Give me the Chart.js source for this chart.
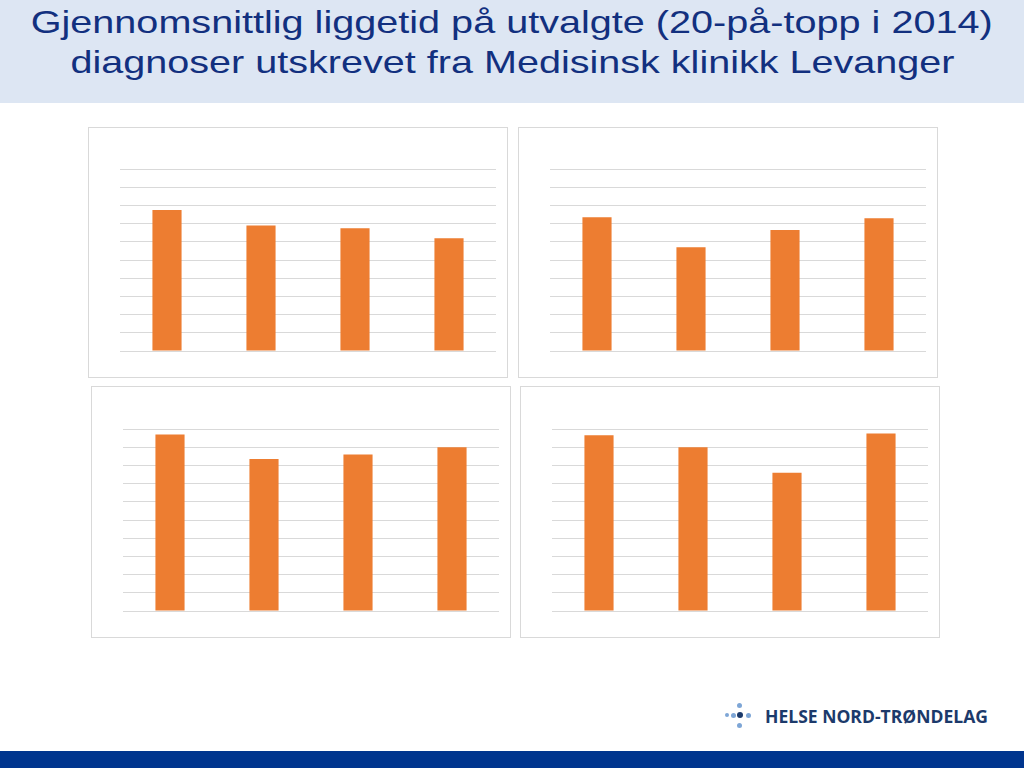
<!doctype html>
<html>

<head>
    <meta charset="utf-8">
    <title>Liggetid Medisinsk klinikk Levanger</title>
    <script src="https://cdn.jsdelivr.net/npm/chart.js"></script>
    <style>
        body {
            margin: 0;
            padding: 0;
            width: 1024px;
            height: 768px;
            position: relative;
            overflow: hidden;
            background-color: #ffffff;
            font-family: "Liberation Sans", Arial, sans-serif;
        }

        #header {
            position: absolute;
            left: 0;
            top: 0;
            width: 1024px;
            height: 103px;
            background-color: #dde6f3;
        }

        #header div {
            position: absolute;
            left: 0;
            width: 1024px;
            text-align: center;
            color: #12307f;
            font-size: 32px;
            white-space: nowrap;
        }

        .panel {
            position: absolute;
            box-sizing: border-box;
            border: 1px solid #d9d9d9;
            background: #ffffff;
        }

        .panel canvas {
            display: block;
        }

        #footer {
            position: absolute;
            left: 0;
            top: 751px;
            width: 1024px;
            height: 17px;
            background-color: #00358e;
        }

        .dot {
            position: absolute;
            border-radius: 50%;
            background-color: #7ea6d6;
        }

        #logoText {
            position: absolute;
            left: 765px;
            top: 703px;
            font-family: "Open Sans", sans-serif;
            font-weight: bold;
            font-size: 18.5px;
            color: #1c3a6b;
            white-space: nowrap;
        }
    </style>
</head>

<body>
    <div id="header">
        <div id="line1" style="top: 4px;">Gjennomsnittlig liggetid på utvalgte (20-på-topp i 2014)</div>
        <div id="line2" style="top: 44px;">diagnoser utskrevet fra Medisinsk klinikk Levanger</div>
    </div>

    <div class="panel" style="left: 88px; top: 127px; width: 420px; height: 251px;"><canvas id="panel1" width="418" height="249"></canvas></div>
    <div class="panel" style="left: 518px; top: 127px; width: 420px; height: 251px;"><canvas id="panel2" width="418" height="249"></canvas></div>
    <div class="panel" style="left: 91px; top: 386px; width: 420px; height: 252px;"><canvas id="panel3" width="418" height="250"></canvas></div>
    <div class="panel" style="left: 520px; top: 386px; width: 420px; height: 252px;"><canvas id="panel4" width="418" height="250"></canvas></div>

    <div class="dot" style="left: 737px; top: 703px; width: 5px; height: 5px;"></div>
    <div class="dot" style="left: 725px; top: 713px; width: 4px; height: 4px;"></div>
    <div class="dot" style="left: 731px; top: 713px; width: 5px; height: 5px;"></div>
    <div class="dot" style="left: 737px; top: 712px; width: 6px; height: 6px; background-color: #1c3a6b;"></div>
    <div class="dot" style="left: 746px; top: 713px; width: 5px; height: 5px;"></div>
    <div class="dot" style="left: 737px; top: 723px; width: 5px; height: 5px;"></div>
    <div id="logoText">HELSE NORD-TRØNDELAG</div>

    <div id="footer"></div>

    <script>
        // verdiene er lest av bildet (ingen aksetekster i originalen)
        var kategorier = ['1', '2', '3', '4'];
        var diagnose1 = [7.75, 6.9, 6.75, 6.2];
        var diagnose2 = [7.35, 5.7, 6.65, 7.3];
        var diagnose3 = [9.7, 8.35, 8.6, 9.0];
        var diagnose4 = [9.65, 9.0, 7.6, 9.75];

        var yMin = 0;
        var yMax = 10;
        var yStep = 1;

        function lagPanel(id, verdier, topp) {
            return new Chart(document.getElementById(id).getContext('2d'), {
                type: 'bar',
                data: {
                    labels: kategorier,
                    datasets: [{
                        data: verdier,
                        backgroundColor: '#ed7d31',
                        borderWidth: 0,
                        categoryPercentage: 1,
                        barPercentage: 0.31
                    }]
                },
                options: {
                    responsive: false,
                    animation: false,
                    layout: {
                        padding: { left: 31, right: 11, top: topp, bottom: 26 }
                    },
                    plugins: {
                        legend: { display: false },
                        tooltip: { enabled: false }
                    },
                    scales: {
                        x: {
                            display: false
                        },
                        y: {
                            min: yMin,
                            max: yMax,
                            ticks: { display: false, stepSize: yStep },
                            grid: { color: '#d9d9d9', drawTicks: false },
                            border: { display: false }
                        }
                    }
                }
            });
        }

        lagPanel('panel1', diagnose1, 41);
        lagPanel('panel2', diagnose2, 41);
        lagPanel('panel3', diagnose3, 42);
        lagPanel('panel4', diagnose4, 42);

        // strekk tekstlinjene til bredden i originalen
        function tilpass(id, bredde, origo) {
            var el = document.getElementById(id);
            var span = document.createElement('span');
            span.textContent = el.textContent;
            el.textContent = '';
            el.appendChild(span);
            span.style.display = 'inline-block';
            span.style.transformOrigin = origo;
            var w = span.getBoundingClientRect().width;
            span.style.transform = 'scaleX(' + (bredde / w) + ')';
        }
        tilpass('line1', 962, 'center');
        tilpass('line2', 884, 'center');
        tilpass('logoText', 223, 'left');
    </script>
</body>

</html>
